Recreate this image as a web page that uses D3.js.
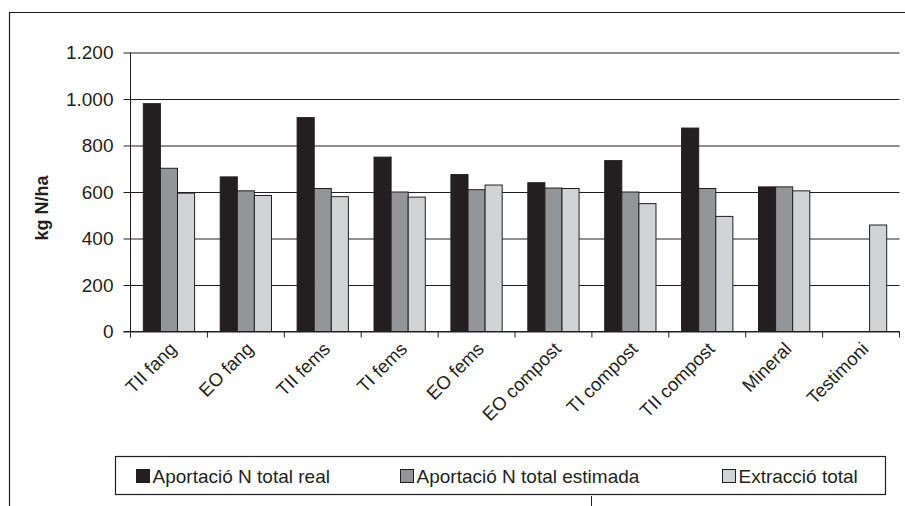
<!DOCTYPE html>
<html>
<head>
<meta charset="utf-8">
<script src="https://cdn.jsdelivr.net/npm/d3@7"></script>
<style>
  html, body { margin: 0; padding: 0; background: #fff; }
  svg { display: block; font-family: "Liberation Sans", Arial, sans-serif; }
</style>
</head>
<body>
<svg id="chart" width="905" height="506"></svg>
<script>
// Nitrogen input vs. extraction per treatment (kg N/ha)
const categories = ["TII fang", "EO fang", "TII fems", "TI fems", "EO fems",
                    "EO compost", "TI compost", "TII compost", "Mineral", "Testimoni"];
const seriesNames = ["Aportació N total real", "Aportació N total estimada", "Extracció total"];
const aportacioReal     = [980, 665, 920, 750, 675, 640, 735, 875, 622, null];
const aportacioEstimada = [702, 605, 615, 600, 610, 617, 600, 615, 622, null];
const extraccioTotal    = [595, 585, 580, 578, 630, 615, 550, 495, 605, 458];
const yTicks = [0, 200, 400, 600, 800, 1000, 1200];
const seriesColors = ["#231f20", "#939598", "#d1d3d4"];

const series = [aportacioReal, aportacioEstimada, extraccioTotal];
const ink = "#231f20";

const svg = d3.select("#chart");
const plot = { left: 130.5, right: 899.5, top: 52.5, bottom: 331.5 };

const locale = d3.formatLocale({ decimal: ",", thousands: ".", grouping: [3], currency: ["", "€"] });
const fmt = locale.format(",d");

const y = d3.scaleLinear().domain([0, 1200]).range([plot.bottom, plot.top]);
const x0 = d3.scaleBand().domain(categories).range([plot.left, plot.right]).padding(0);
const x1 = d3.scaleBand().domain(d3.range(series.length))
  .range([0, x0.bandwidth()]).paddingInner(0).paddingOuter(0.75);

// outer frame
svg.append("path")
  .attr("d", "M9.5,506 V12.5 H905")
  .attr("fill", "none").attr("stroke", ink).attr("stroke-width", 1.2);
svg.append("line")
  .attr("x1", 591.5).attr("x2", 591.5).attr("y1", 496).attr("y2", 506)
  .attr("stroke", ink).attr("stroke-width", 1);

// gridlines + y axis
const yAxis = d3.axisLeft(y).tickValues(yTicks).tickFormat(fmt)
  .tickSize(-(plot.right - plot.left)).tickSizeOuter(0).tickPadding(17);
const gy = svg.append("g").attr("transform", `translate(${plot.left},0)`).call(yAxis);
gy.attr("font-family", null).attr("font-size", null);
gy.select(".domain").remove();
gy.selectAll(".tick line").attr("stroke", ink).attr("x1", -7);
gy.selectAll(".tick text")
  .attr("fill", ink).attr("font-size", 19);
svg.append("line")
  .attr("x1", plot.left).attr("x2", plot.left).attr("y1", plot.top).attr("y2", plot.bottom)
  .attr("stroke", ink);

// bars
const groups = svg.append("g").selectAll("g").data(categories).join("g")
  .attr("transform", d => `translate(${x0(d)},0)`);
groups.selectAll("rect")
  .data((d, i) => series.map((s, k) => ({ k, v: s[i] })).filter(e => e.v != null))
  .join("rect")
  .attr("x", d => x1(d.k))
  .attr("width", x1.bandwidth())
  .attr("y", d => y(d.v))
  .attr("height", d => y(0) - y(d.v))
  .attr("fill", d => seriesColors[d.k])
  .attr("stroke", ink).attr("stroke-width", 1);

// x axis with category boundaries
const gx = svg.append("g").attr("transform", `translate(0,${plot.bottom})`);
gx.append("line").attr("x1", plot.left - 7).attr("x2", plot.right)
  .attr("stroke", ink);
const bounds = categories.map(c => x0(c)).concat([plot.right]);
gx.selectAll("line.b").data(bounds).join("line").attr("class", "b")
  .attr("x1", d => d).attr("x2", d => d).attr("y1", 0).attr("y2", 6)
  .attr("stroke", ink);
gx.selectAll("text").data(categories).join("text")
  .attr("transform", d => `translate(${x0(d) + x0.bandwidth() / 2 + 4},${14}) rotate(-45)`)
  .attr("text-anchor", "end")
  .attr("dy", "0.35em")
  .attr("font-size", 18.5).attr("fill", ink)
  .text(d => d);

// legend
const lg = svg.append("g");
lg.append("rect").attr("x", 115.5).attr("y", 456.5).attr("width", 770).attr("height", 38)
  .attr("fill", "#fff").attr("stroke", ink).attr("stroke-width", 1.2);
const legendX = [136.5, 400.5, 722.5];
const items = lg.selectAll("g.item").data(seriesNames).join("g").attr("class", "item")
  .attr("transform", (d, i) => `translate(${legendX[i]},469.5)`);
items.append("rect").attr("width", 13).attr("height", 13)
  .attr("fill", (d, i) => seriesColors[i]).attr("stroke", ink);
items.append("text").attr("x", 16).attr("y", 6.5).attr("dy", "0.36em")
  .attr("font-size", 19).attr("fill", ink).text(d => d);

// y axis title
svg.append("text")
  .attr("transform", "translate(48,208) rotate(-90)")
  .attr("text-anchor", "middle")
  .attr("font-size", 18).attr("font-weight", "bold").attr("fill", ink)
  .text("kg N/ha");
</script>
</body>
</html>
